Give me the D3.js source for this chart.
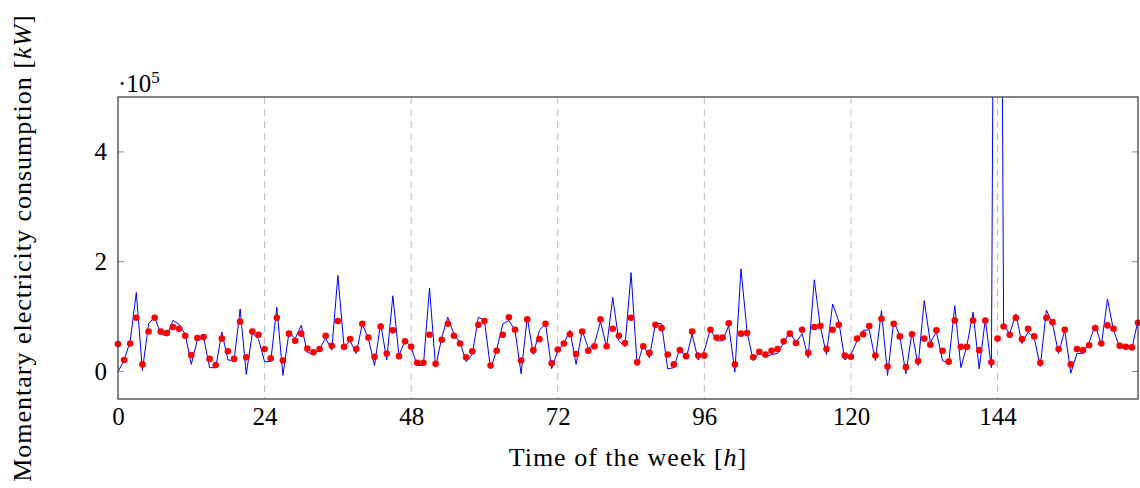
<!DOCTYPE html>
<html>
<head>
<meta charset="utf-8">
<script src="https://cdn.jsdelivr.net/npm/d3@7"></script>
<style>
    body { margin: 0; background: #fff; }
    svg text { font-family: "Liberation Serif", "DejaVu Serif", serif; fill: #000; }
</style>
</head>
<body>
<svg width="1140" height="488"></svg>
<script>
// values, in units of 10^4 kW
let measured = [0, 2.0, 5.6, 14.4, 0.2, 8.7, 9.9, 6.8, 6.5, 9.3, 8.6, 6.8, 1.3, 5.8, 6.3, 0.7, 0.7, 7.2, 2.1, 2.0,
    11.4, -0.5, 7.0, 5.9, 1.8, 1.8, 11.7, -0.7, 7.2, 6.0, 8.4, 3.5, 3.1, 4.1, 6.1, 3.9, 17.5, 4.6, 5.6, 3.3,
    8.7, 6.0, 1.1, 8.8, 2.1, 13.8, 2.9, 5.7, 4.4, 1.1, 1.1, 15.2, 0.8, 6.2, 9.9, 6.8, 5.3, 1.8, 3.1, 9.9,
    9.3, 0.5, 3.9, 8.7, 9.3, 7.5, -0.4, 9.9, 3.1, 7.5, 8.8, 0.5, 3.8, 5.1, 7.5, 1.3, 7.5, 4.2, 5.0, 9.1,
    4.4, 13.5, 5.6, 4.5, 18.0, 1.1, 4.8, 2.5, 8.8, 8.7, 0.5, 0.7, 4.2, 2.3, 6.8, 2.1, 3.8, 7.8, 5.6, 5.6,
    8.4, -0.1, 18.7, 7.2, 2.0, 3.5, 2.6, 3.1, 3.3, 5.3, 7.2, 5.3, 6.9, 2.5, 16.7, 8.1, 3.1, 12.3, 9.2, 2.1,
    3.1, 5.6, 7.5, 7.6, 2.0, 11.1, -0.7, 9.2, 6.5, -0.4, 7.2, 1.1, 12.9, 5.3, 7.2, 2.0, 1.5, 12.0, 0.7, 4.8,
    10.8, 0.5, 9.5, 0.7, 220, 8.4, 6.9, 10.5, 5.1, 7.2, 6.2, 0.9, 11.2, 8.7, 3.3, 7.5, -0.3, 3.3, 3.3, 5.3,
    8.5, 4.8, 13.2, 7.5, 4.4, 4.2, 4.2, 9.3];

let predicted = [5.0, 2.1, 5.1, 9.8, 1.3, 7.3, 9.8, 7.3, 7.0, 8.1, 7.8, 6.5, 3.0, 6.1, 6.3, 2.3, 1.2, 6.0, 3.7, 2.3,
    9.1, 2.6, 7.3, 6.7, 4.1, 2.4, 9.8, 2.0, 6.9, 5.6, 6.9, 4.2, 3.5, 4.1, 6.5, 4.7, 9.2, 4.5, 5.9, 4.1,
    8.7, 6.2, 2.7, 8.2, 3.3, 7.5, 2.8, 5.5, 4.5, 1.6, 1.6, 6.7, 1.4, 5.8, 8.7, 6.5, 5.1, 2.6, 3.7, 8.5,
    9.2, 1.1, 3.8, 6.7, 9.9, 7.6, 2.0, 9.5, 3.9, 5.9, 8.7, 1.5, 4.0, 5.1, 6.8, 3.2, 7.3, 3.8, 4.6, 9.5,
    4.6, 7.8, 6.5, 5.2, 9.8, 1.7, 4.6, 3.4, 8.5, 7.9, 3.1, 1.3, 3.9, 2.8, 7.3, 2.9, 2.9, 7.6, 6.2, 6.2,
    8.8, 1.3, 6.9, 7.0, 2.6, 3.6, 3.1, 3.8, 4.1, 5.5, 6.9, 5.2, 7.6, 3.4, 8.1, 8.3, 4.1, 7.6, 8.5, 2.9,
    2.7, 6.0, 6.8, 8.3, 2.9, 9.6, 0.9, 8.7, 6.4, 0.8, 6.8, 1.9, 6.0, 4.9, 7.5, 3.8, 1.8, 9.3, 4.5, 4.5,
    9.3, 3.9, 9.3, 1.7, 6.0, 8.2, 6.7, 9.8, 5.9, 7.8, 6.4, 1.6, 9.8, 9.0, 4.1, 7.6, 1.3, 4.1, 3.9, 4.8,
    7.9, 5.1, 8.4, 7.8, 4.7, 4.5, 4.4, 8.9];

let xTicks = [0, 24, 48, 72, 96, 120, 144];
let yTicks = [0, 2e5, 4e5];

let svg = d3.select("svg");
let margin = { top: 97, right: 2, bottom: 89, left: 118 },
    width = +svg.attr("width") - margin.left - margin.right,
    height = +svg.attr("height") - margin.top - margin.bottom;

let x = d3.scaleLinear().domain([0, 167]).range([0, width]);
let y = d3.scaleLinear().domain([-0.5e5, 5e5]).range([height, 0]);

let g = svg.append("g")
    .attr("transform", "translate(" + margin.left + "," + margin.top + ")");

g.append("clipPath").attr("id", "clip")
    .append("rect").attr("width", width).attr("height", height);

// dashed vertical grid
g.selectAll(".grid")
    .data(xTicks.slice(1))
    .enter().append("line")
    .attr("x1", d => x(d)).attr("x2", d => x(d))
    .attr("y1", 0).attr("y2", height)
    .attr("stroke", "#bdbdbd")
    .attr("stroke-width", 1)
    .attr("stroke-dasharray", "7,5");

let load = measured.map((v, i) => ({ h: i, v: v * 1e4 }));
let pred = predicted.map((v, i) => ({ h: i, v: v * 1e4 }));

let line = d3.line().x(d => x(d.h)).y(d => y(d.v));

g.append("path")
    .datum(load)
    .attr("clip-path", "url(#clip)")
    .attr("fill", "none")
    .attr("stroke", "#0000ff")
    .attr("stroke-width", 1)
    .attr("d", line);

g.selectAll(".dot")
    .data(pred)
    .enter().append("circle")
    .attr("cx", d => x(d.h))
    .attr("cy", d => y(d.v))
    .attr("r", 3.3)
    .attr("fill", "#ff0000");

// axes: inside ticks on left and right
let fmt = d => d / 1e5;
g.append("g").call(d3.axisBottom(x).tickValues(xTicks).tickSize(0).tickPadding(8))
    .attr("transform", "translate(0," + height + ")")
    .call(a => a.select(".domain").remove())
    .selectAll("text").style("font-size", "25px");
g.append("g").call(d3.axisLeft(y).tickValues(yTicks).tickFormat(fmt).tickSize(0).tickPadding(11))
    .call(a => a.select(".domain").remove())
    .selectAll("text").style("font-size", "25px");

g.selectAll(".ytl")
    .data(yTicks).enter().append("line")
    .attr("x1", 0).attr("x2", 6)
    .attr("y1", d => y(d)).attr("y2", d => y(d))
    .attr("stroke", "#888");
g.selectAll(".ytr")
    .data(yTicks).enter().append("line")
    .attr("x1", width - 6).attr("x2", width)
    .attr("y1", d => y(d)).attr("y2", d => y(d))
    .attr("stroke", "#888");

g.append("rect")
    .attr("width", width).attr("height", height)
    .attr("fill", "none")
    .attr("stroke", "#333")
    .attr("stroke-width", 1.2);

// exponent label
let ex = g.append("text").attr("x", 0).attr("y", -5).style("font-size", "25px");
ex.append("tspan").text("·10");
ex.append("tspan").attr("dy", -9).style("font-size", "17px").text("5");

// axis titles
let xl = svg.append("text")
    .attr("x", margin.left + width / 2).attr("y", 466)
    .attr("text-anchor", "middle")
    .style("font-size", "26px")
    .style("letter-spacing", "1px");
xl.append("tspan").text("Time of the week [");
xl.append("tspan").style("font-style", "italic").text("h");
xl.append("tspan").text("]");

let yl = svg.append("text")
    .attr("transform", "translate(31," + 248 + ") rotate(-90)")
    .attr("text-anchor", "middle")
    .style("font-size", "26px")
    .style("letter-spacing", "1px");
yl.append("tspan").text("Momentary electricity consumption [");
yl.append("tspan").style("font-style", "italic").text("kW");
yl.append("tspan").text("]");
</script>
</body>
</html>
